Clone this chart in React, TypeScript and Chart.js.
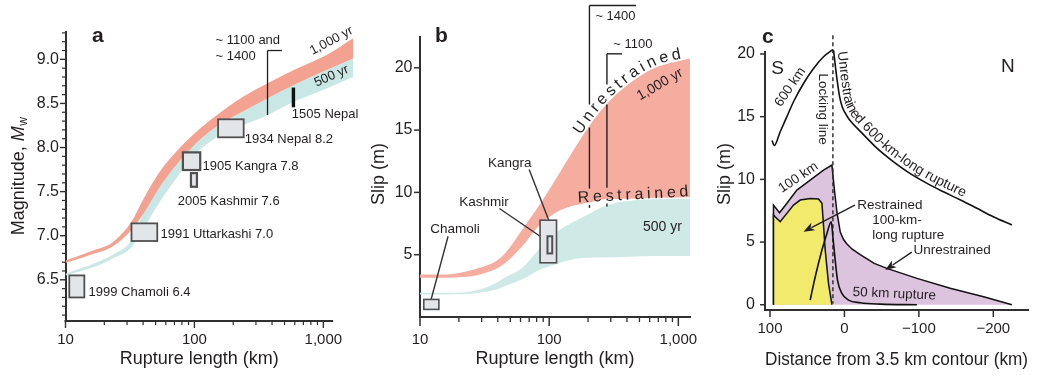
import React, { useEffect, useRef } from "react";
import { Chart, registerables } from "chart.js";

Chart.register(...registerables);

const FONT = "'Liberation Sans', Arial, Helvetica, sans-serif";
const INK = "#231f20";
const AXIS = "#303030";
const RED_A = "#f3a292";
const TEAL_A = "#c9e7e4";
const RED_B = "#f5ad9f";
const TEAL_B = "#cfe9e6";
const BOX_FILL = "#e3e6e8";
const BOX_LINE = "#505050";
const PURPLE = "#dcc3de";
const YELLOW = "#f1ea6d";

Chart.defaults.font.family = FONT;

// ---------------- Panel a: magnitude vs rupture length ----------------
const aLength = [10, 17, 23, 32.5, 41, 55, 74, 100, 150, 240, 370, 590, 1060, 1700];
const aRedTop = [6.72, 6.84, 6.92, 7.16, 7.44, 7.745, 7.97, 8.16, 8.37, 8.58, 8.73, 8.88, 9.05, 9.24];
const aRedBottom = [6.69, 6.8, 6.875, 7.065, 7.27, 7.575, 7.82, 8.03, 8.24, 8.41, 8.56, 8.71, 8.88, 9.01];
const aTealTop = [6.57, 6.69, 6.78, 6.95, 7.28, 7.58, 7.82, 8.03, 8.24, 8.41, 8.56, 8.71, 8.88, 9.01];
const aTealBottom = [6.55, 6.65, 6.74, 6.87, 7.1, 7.405, 7.67, 7.915, 8.12, 8.255, 8.37, 8.52, 8.67, 8.8];
const aXTicks = [10, 100, 1000];
const aXMinorTicks = [20, 30, 40, 50, 60, 70, 80, 90, 200, 300, 400, 500, 600, 700, 800, 900];
const aYTicks = [6.5, 7, 7.5, 8, 8.5, 9];
const aYMinorTicks = [6.1, 6.2, 6.3, 6.4, 6.6, 6.7, 6.8, 6.9, 7.1, 7.2, 7.3, 7.4, 7.6, 7.7, 7.8, 7.9, 8.1, 8.2, 8.3, 8.4, 8.6, 8.7, 8.8, 8.9, 9.1, 9.2, 9.3];
const aEventNames = ["1999 Chamoli 6.4", "1991 Uttarkashi 7.0", "1905 Kangra 7.8", "2005 Kashmir 7.6", "1934 Nepal 8.2"];
const aEventLength = [[10.7, 14], [32.5, 51.5], [81.4, 110.9], [94, 104.6], [152.6, 241]];
const aEventMagnitude = [[6.3, 6.55], [6.94, 7.14], [7.745, 7.945], [7.555, 7.71], [8.116, 8.32]];
const aEventLabelAt = [[15.1, 6.36], [54.5, 7.01], [115.4, 7.79], [74.3, 7.39], [246, 8.09]];
const a1505Length = 586;
const a1505Magnitude = [8.456, 8.68];
const aHistoricLength = [369, 477];
const aHistoricMagnitude = [8.37, 9.1];

// ---------------- Panel b: slip vs rupture length ----------------
const bLength = [10, 16, 21.5, 29, 39, 46, 62, 83, 112, 150, 200, 270, 410, 660, 1230];
const bRedTop = [3.42, 3.42, 3.6, 3.95, 4.5, 5.16, 7.03, 8.9, 11.04, 13.18, 15.19, 16.93, 18.67, 20.0, 20.75];
const bRedBottom = [3.15, 3.15, 3.2, 3.42, 3.87, 4.35, 5.69, 7.3, 8.37, 8.9, 9.17, 9.44, 9.49, 9.57, 9.6];
const bTealTop = [1.95, 1.95, 1.97, 2.2, 2.75, 3.2, 3.95, 5.42, 6.76, 7.57, 8.23, 8.9, 9.3, 9.44, 9.49];
const bTealBottom = [1.81, 1.81, 1.82, 1.95, 2.21, 2.5, 3.02, 3.76, 4.22, 4.62, 4.76, 4.78, 4.84, 4.89, 4.9];
const bXTicks = [10, 100, 1000];
const bXMinorTicks = [20, 30, 40, 50, 60, 70, 80, 90, 200, 300, 400, 500, 600, 700, 800, 900];
const bYTicks = [5, 10, 15, 20];
const bEventNames = ["Chamoli", "Kangra", "Kashmir"];
const bEventLength = [[10.7, 14], [85, 114], [97, 105.6]];
const bEventSlip = [[0.61, 1.41], [4.35, 7.77], [5.1, 6.48]];
const bEventLabelAt = [[18.7, 7.02], [49.5, 12.32], [31.3, 9.19]];
const bLeaderFrom = [[16.5, 6.48], [70, 11.84], [41.2, 8.71]];
const bLeaderTo = [[11.9, 1.0], [99.3, 7.77], [96.9, 6.08]];
const bHistoricNames = ["~ 1400", "~ 1100"];
const bHistoricLength = [205, 280];
const bHistoricArm = [471, 366];
const bHistoricTop = [25.0, 21.12];
const bHistoricSegments = [
  [[25.0, 17.05], [15.2, 10.3], [8.98, 8.76]],
  [[21.12, 18.66], [17.05, 10.37], [9.1, 8.86]],
];
const bHistoricLabelAt = [[228, 24.1], [314, 21.87]];

// ---------------- Panel c: slip vs distance ----------------
const cRightX = [14.6, 12.5, 10, 6.5, 3, -1, -5.5, -12, -21, -44, -66, -88, -111, -133, -156, -178, -200, -225];
const cRightSlip = [20.3, 19.2, 18.0, 16.6, 15.8, 15.3, 14.86, 14.4, 13.85, 12.47, 11.4, 10.48, 9.68, 9.01, 8.35, 7.69, 7.02, 6.36];
const cLeftX = [97.2, 94.4, 86.3, 77.3, 68.4, 55, 41.5, 28.1, 15.8];
const cLeftSlip = [13.1, 12.7, 13.8, 15.0, 16.19, 17.65, 18.85, 19.78, 20.35];
const c50X = [46, 39.2, 30.2, 23.5, 17.7, 15.5, 12.4, 9.3, 3.4, -5.5, -21.2, -48, -97.5];
const c50Slip = [0.37, 2.23, 4.36, 5.69, 6.62, 5.42, 3.56, 1.97, 0.91, 0.37, 0.16, 0.05, 0];
const cPurpleX = [95.3, 95.3, 87.2, 77.3, 63.9, 46, 28.1, 16.8, 13.7, 10.1, 5.6, 1.2, -3.4, -10, -21.2, -40, -57, -97.5, -142, -187, -225];
const cPurpleSlip = [0, 7.95, 7.34, 8.09, 9.15, 9.94, 10.74, 11.14, 9.3, 7.4, 5.8, 5.2, 4.85, 4.45, 4.0, 3.3, 2.9, 2.1, 1.31, 0.64, 0];
const cYellowX = [95.3, 95.3, 86.3, 77.3, 68.4, 59.4, 46, 34.8, 30.2, 28.9, 25.8, 21.4, 16.8];
const cYellowSlip = [0, 7.15, 6.62, 7.29, 7.95, 8.35, 8.48, 8.43, 8.09, 7.02, 4.36, 1.71, 0];
const cLockX = [15.5, 15.5];
const cLockSlip = [21.5, 0.1];
const cXTicks = [100, 0, -100, -200];
const cYTicks = [0, 5, 10, 15, 20];

// ---------------- helpers ----------------
type Pt = { x: number; y: number };

function seg(ctx: CanvasRenderingContext2D, x1: number, y1: number, x2: number, y2: number, w = 1.5, color = INK) {
  ctx.save();
  ctx.strokeStyle = color;
  ctx.lineWidth = w;
  ctx.beginPath();
  ctx.moveTo(x1, y1);
  ctx.lineTo(x2, y2);
  ctx.stroke();
  ctx.restore();
}

function txt(ctx: CanvasRenderingContext2D, s: string, x: number, y: number, o: any = {}) {
  ctx.save();
  ctx.font = `${o.italic ? "italic " : ""}${o.bold ? "bold " : ""}${o.size ?? 13}px ${FONT}`;
  ctx.fillStyle = o.color ?? INK;
  ctx.textAlign = o.align ?? "left";
  ctx.textBaseline = o.baseline ?? "middle";
  ctx.translate(x, y);
  if (o.rot) ctx.rotate((o.rot * Math.PI) / 180);
  ctx.fillText(s, 0, 0);
  ctx.restore();
}

function arrow(ctx: CanvasRenderingContext2D, x1: number, y1: number, x2: number, y2: number) {
  const a = Math.atan2(y2 - y1, x2 - x1);
  const L = 11, W = 4.2;
  seg(ctx, x1, y1, x2 - (L - 2) * Math.cos(a), y2 - (L - 2) * Math.sin(a), 1.4);
  ctx.save();
  ctx.fillStyle = INK;
  ctx.beginPath();
  ctx.moveTo(x2, y2);
  ctx.lineTo(x2 - L * Math.cos(a) + W * Math.sin(a), y2 - L * Math.sin(a) - W * Math.cos(a));
  ctx.lineTo(x2 - (L - 3) * Math.cos(a), y2 - (L - 3) * Math.sin(a));
  ctx.lineTo(x2 - L * Math.cos(a) - W * Math.sin(a), y2 - L * Math.sin(a) + W * Math.cos(a));
  ctx.closePath();
  ctx.fill();
  ctx.restore();
}

function box(ctx: CanvasRenderingContext2D, x0: number, y0: number, x1: number, y1: number, w = 1.8) {
  ctx.save();
  ctx.fillStyle = BOX_FILL;
  ctx.strokeStyle = BOX_LINE;
  ctx.lineWidth = w;
  const l = Math.min(x0, x1), t = Math.min(y0, y1);
  ctx.fillRect(l, t, Math.abs(x1 - x0), Math.abs(y1 - y0));
  ctx.strokeRect(l, t, Math.abs(x1 - x0), Math.abs(y1 - y0));
  ctx.restore();
}

function datasetPath(chart: any, idx: number): Pt[] {
  const pts = chart.getDatasetMeta(idx).data as any[];
  const out: Pt[] = [];
  for (let i = 0; i < pts.length; i++) {
    const p = pts[i];
    if (i === 0) {
      out.push({ x: p.x, y: p.y });
      continue;
    }
    const q = pts[i - 1];
    const c1x = q.cp2x ?? q.x, c1y = q.cp2y ?? q.y, c2x = p.cp1x ?? p.x, c2y = p.cp1y ?? p.y;
    for (let k = 1; k <= 12; k++) {
      const t = k / 12, u = 1 - t;
      out.push({
        x: u * u * u * q.x + 3 * u * u * t * c1x + 3 * u * t * t * c2x + t * t * t * p.x,
        y: u * u * u * q.y + 3 * u * u * t * c1y + 3 * u * t * t * c2y + t * t * t * p.y,
      });
    }
  }
  return out;
}

function textOnPath(ctx: CanvasRenderingContext2D, pts: Pt[], text: string, startX: number | null, s0: number, spacing: number, offset: number, size: number) {
  const cum = [0];
  for (let i = 1; i < pts.length; i++) cum.push(cum[i - 1] + Math.hypot(pts[i].x - pts[i - 1].x, pts[i].y - pts[i - 1].y));
  const at = (s: number): Pt => {
    let i = 1;
    while (i < pts.length - 1 && cum[i] < s) i++;
    const L = cum[i] - cum[i - 1] || 1;
    const t = (s - cum[i - 1]) / L;
    return { x: pts[i - 1].x + (pts[i].x - pts[i - 1].x) * t, y: pts[i - 1].y + (pts[i].y - pts[i - 1].y) * t };
  };
  let s = s0;
  if (startX !== null) {
    for (let i = 1; i < pts.length; i++) {
      if ((pts[i - 1].x - startX) * (pts[i].x - startX) <= 0 && pts[i].x !== pts[i - 1].x) {
        s = cum[i - 1] + ((startX - pts[i - 1].x) / (pts[i].x - pts[i - 1].x)) * (cum[i] - cum[i - 1]);
        break;
      }
    }
  }
  ctx.save();
  ctx.font = `${size}px ${FONT}`;
  ctx.fillStyle = INK;
  ctx.textAlign = "center";
  ctx.textBaseline = "alphabetic";
  for (const ch of text) {
    const w = ctx.measureText(ch).width;
    const c = s + w / 2;
    const p = at(c), pa = at(c - 4), pb = at(c + 4);
    const a = Math.atan2(pb.y - pa.y, pb.x - pa.x);
    ctx.save();
    ctx.translate(p.x + Math.sin(a) * offset, p.y - Math.cos(a) * offset);
    ctx.rotate(a);
    ctx.fillText(ch, 0, 0);
    ctx.restore();
    s += w + spacing;
  }
  ctx.restore();
}

const baseOptions = (padding: any) => ({
  animation: false as const,
  responsive: false,
  devicePixelRatio: 1,
  events: [] as any[],
  layout: { autoPadding: false, padding },
  plugins: { legend: { display: false }, tooltip: { enabled: false } },
});

const tickFont = (size: number) => ({ family: FONT, size });

// ---------------- Panel a ----------------
const A_AXIS_END = 1190;

function drawA(chart: any) {
  const { ctx, chartArea: area } = chart;
  const xs = chart.scales.x, ys = chart.scales.y;
  const X = (v: number) => xs.getPixelForValue(v);
  const Y = (v: number) => ys.getPixelForValue(v);
  seg(ctx, area.left - 1, area.bottom, X(A_AXIS_END), area.bottom, 2, AXIS);
  aXTicks.forEach((v) => seg(ctx, X(v), area.bottom, X(v), area.bottom + 7, 1.4, AXIS));
  aXMinorTicks.forEach((v) => seg(ctx, X(v), area.bottom, X(v), area.bottom + 4, 1.2, AXIS));
  aYTicks.forEach((v) => seg(ctx, area.left - 5.5, Y(v), area.left, Y(v), 1.4, AXIS));
  aYMinorTicks.forEach((v) => seg(ctx, area.left - 3.5, Y(v), area.left, Y(v), 1.2, AXIS));

  aEventNames.forEach((name, i) => {
    const [l0, l1] = aEventLength[i];
    const [m0, m1] = aEventMagnitude[i];
    box(ctx, X(l0), Y(m1), X(l1), Y(m0), i === 2 || i === 3 ? 2.2 : 1.8);
    const [lx, ly] = aEventLabelAt[i];
    txt(ctx, name, X(lx), Y(ly), { size: 13 });
  });
  seg(ctx, X(a1505Length), Y(a1505Magnitude[0]), X(a1505Length), Y(a1505Magnitude[1]), 3.4, "#111");
  txt(ctx, "1505 Nepal", X(570), Y(8.38), { size: 13 });

  seg(ctx, X(aHistoricLength[0]), Y(aHistoricMagnitude[0]), X(aHistoricLength[0]), Y(aHistoricMagnitude[1]), 1.3);
  seg(ctx, X(aHistoricLength[0]), Y(aHistoricMagnitude[1]), X(aHistoricLength[1]), Y(aHistoricMagnitude[1]), 1.3);
  txt(ctx, "~ 1100 and", X(146), Y(9.22), { size: 13 });
  txt(ctx, "~ 1400", X(146), Y(9.03), { size: 13 });
  txt(ctx, "1,000 yr", X(1157), Y(9.21), { size: 13, align: "center", rot: -28 });
  txt(ctx, "500 yr", X(1157), Y(8.81), { size: 13, align: "center", rot: -24 });

  txt(ctx, "Rupture length (km)", (area.left + X(A_AXIS_END)) / 2, 359, { size: 18, align: "center" });

  // y title with italic M and subscript w
  ctx.save();
  ctx.translate(area.left - 46.5, (area.top + area.bottom) / 2);
  ctx.rotate(-Math.PI / 2);
  ctx.fillStyle = INK;
  ctx.textBaseline = "middle";
  ctx.font = `18px ${FONT}`;
  const t1 = "Magnitude, ";
  const w1 = ctx.measureText(t1).width;
  ctx.font = `italic 18px ${FONT}`;
  const wM = ctx.measureText("M").width;
  ctx.font = `12px ${FONT}`;
  const ww = ctx.measureText("w").width;
  let x0 = -(w1 + wM + ww) / 2;
  ctx.font = `18px ${FONT}`;
  ctx.fillText(t1, x0, 0);
  x0 += w1;
  ctx.font = `italic 18px ${FONT}`;
  ctx.fillText("M", x0, 0);
  x0 += wM;
  ctx.font = `12px ${FONT}`;
  ctx.fillText("w", x0 + 0.5, 5);
  ctx.restore();

  txt(ctx, "a", 92, 42, { bold: true, size: 21, baseline: "alphabetic" });
}

function makeA(canvas: HTMLCanvasElement) {
  const pts = (ys: number[]) => aLength.map((x, i) => ({ x, y: ys[i] }));
  const band = (data: any, fill: any, color: string, label: string) => ({
    label, data, fill, backgroundColor: color, borderColor: color, borderWidth: 0, pointRadius: 0, cubicInterpolationMode: "monotone" as const,
  });
  return new Chart(canvas, {
    type: "line",
    data: {
      datasets: [
        band(pts(aRedTop), 1, RED_A, "1,000 yr"),
        band(pts(aRedBottom), false, RED_A, "1,000 yr (lower)"),
        band(pts(aTealTop), 3, TEAL_A, "500 yr"),
        band(pts(aTealBottom), false, TEAL_A, "500 yr (lower)"),
      ],
    },
    options: {
      ...baseOptions({ left: 15.5, top: 32, right: 686, bottom: 0 }),
      scales: {
        x: {
          type: "logarithmic", position: "bottom", min: 10, max: 1760,
          grid: { display: false, drawTicks: false },
          border: { display: false },
          ticks: { autoSkip: false, maxRotation: 0, padding: 9.5, color: INK, font: tickFont(15), callback: (v: any) => (v === 1000 ? "1,000" : String(v)) },
          afterBuildTicks: (s: any) => { s.ticks = aXTicks.map((value) => ({ value })); },
          afterFit: (s: any) => { s.height = 54; },
        },
        y: {
          type: "linear", position: "left", min: 6.033, max: 9.31,
          grid: { display: false, drawTicks: false },
          border: { display: true, color: AXIS, width: 2 },
          ticks: { autoSkip: false, padding: 6.5, color: INK, font: tickFont(16), callback: (v: any) => Number(v).toFixed(1) },
          afterBuildTicks: (s: any) => { s.ticks = aYTicks.map((value) => ({ value })); },
          afterFit: (s: any) => { s.width = 50; },
        },
      },
    } as any,
    plugins: [{ id: "decorA", afterDraw: drawA }],
  });
}

// ---------------- Panel b ----------------
function drawB(chart: any) {
  const { ctx, chartArea: area } = chart;
  const xs = chart.scales.x, ys = chart.scales.y;
  const X = (v: number) => xs.getPixelForValue(v);
  const Y = (v: number) => ys.getPixelForValue(v);
  bXTicks.forEach((v) => seg(ctx, X(v), area.bottom, X(v), area.bottom + 9, 1.5, AXIS));
  bXMinorTicks.forEach((v) => seg(ctx, X(v), area.bottom, X(v), area.bottom + 5, 1.3, AXIS));
  bYTicks.forEach((v) => seg(ctx, area.left - 6, Y(v), area.left, Y(v), 1.5, AXIS));

  // leader lines and boxes
  bEventNames.forEach((_, i) => {
    seg(ctx, X(bLeaderFrom[i][0]), Y(bLeaderFrom[i][1]), X(bLeaderTo[i][0]), Y(bLeaderTo[i][1]), 1.4, "#333");
  });
  bEventNames.forEach((name, i) => {
    const [l0, l1] = bEventLength[i];
    const [s0, s1] = bEventSlip[i];
    box(ctx, X(l0), Y(s1), X(l1), Y(s0), i === 2 ? 2 : 1.6);
  });
  bEventNames.forEach((name, i) => {
    const [lx, ly] = bEventLabelAt[i];
    txt(ctx, name, X(lx), Y(ly), { size: 13.5, align: "center" });
  });

  // historic brackets
  bHistoricNames.forEach((name, i) => {
    const x = X(bHistoricLength[i]);
    bHistoricSegments[i].forEach(([a, b]) => seg(ctx, x, Y(a), x, Y(b), 1.4));
    seg(ctx, x, Y(bHistoricTop[i]), X(bHistoricArm[i]), Y(bHistoricTop[i]), 1.4);
    txt(ctx, name, X(bHistoricLabelAt[i][0]), Y(bHistoricLabelAt[i][1]), { size: 13 });
  });

  // curved "Unrestrained" along the upper edge of the 1,000 yr band
  textOnPath(ctx, datasetPath(chart, 0), "Unrestrained", X(181), 0, 3.4, 2, 16);
  // "Restrained" along the lower edge
  textOnPath(ctx, [{ x: X(167.5), y: Y(9.19) }, { x: X(1100), y: Y(9.67) }, { x: X(3000), y: Y(10.15) }], "Restrained", null, 0, 3.7, 0, 16);

  txt(ctx, "1,000 yr", X(721), Y(18.66), { size: 14, align: "center", rot: -30 });
  txt(ctx, "500 yr", X(753), Y(7.18), { size: 14, align: "center" });

  txt(ctx, "Slip (m)", area.left - 41, 174, { size: 18, align: "center", rot: -90 });
  txt(ctx, "b", 435, 42, { bold: true, size: 21, baseline: "alphabetic" });
}

function makeB(canvas: HTMLCanvasElement) {
  const pts = (ys: number[]) => bLength.map((x, i) => ({ x, y: ys[i] }));
  const band = (data: any, fill: any, color: string, label: string) => ({
    label, data, fill, backgroundColor: color, borderColor: color, borderWidth: 0, pointRadius: 0, cubicInterpolationMode: "monotone" as const,
  });
  return new Chart(canvas, {
    type: "line",
    data: {
      datasets: [
        band(pts(bRedTop), 1, RED_B, "1,000 yr"),
        band(pts(bRedBottom), false, RED_B, "1,000 yr (lower)"),
        band(pts(bTealTop), 3, TEAL_B, "500 yr"),
        band(pts(bTealBottom), false, TEAL_B, "500 yr (lower)"),
      ],
    },
    options: {
      ...baseOptions({ left: 370, top: 37, right: 351, bottom: 0 }),
      scales: {
        x: {
          type: "logarithmic", position: "bottom", min: 10, max: 1231,
          grid: { display: false, drawTicks: false },
          border: { display: true, color: AXIS, width: 2 },
          ticks: { autoSkip: false, maxRotation: 0, padding: 13.5, color: INK, font: tickFont(15), callback: (v: any) => (v === 1000 ? "1,000" : String(v)) },
          title: { display: true, text: "Rupture length (km)", color: INK, font: { family: FONT, size: 18 }, padding: { top: 0, bottom: 5 } },
          afterBuildTicks: (s: any) => { s.ticks = bXTicks.map((value) => ({ value })); },
          afterFit: (s: any) => { s.height = 58; },
        },
        y: {
          type: "linear", position: "left", min: 0, max: 22.47,
          grid: { display: false, drawTicks: false },
          border: { display: true, color: AXIS, width: 2 },
          ticks: { autoSkip: false, padding: 7.5, color: INK, font: tickFont(16), callback: (v: any) => String(v) },
          afterBuildTicks: (s: any) => { s.ticks = bYTicks.map((value) => ({ value })); },
          afterFit: (s: any) => { s.width = 50; },
        },
      },
    } as any,
    plugins: [{ id: "decorB", afterDraw: drawB }],
  });
}

// ---------------- Panel c ----------------
function drawC(chart: any) {
  const { ctx, chartArea: area } = chart;
  const xs = chart.scales.x, ys = chart.scales.y;
  const X = (v: number) => xs.getPixelForValue(v);
  const Y = (v: number) => ys.getPixelForValue(v);
  cXTicks.forEach((v) => seg(ctx, X(v), area.bottom, X(v), area.bottom + 7, 1.5, AXIS));
  cYTicks.forEach((v) => seg(ctx, area.left - 5, Y(v), area.left, Y(v), 1.5, AXIS));

  txt(ctx, "S", X(89.7), Y(18.84), { size: 19, align: "center" });
  txt(ctx, "N", X(-219.5), Y(18.96), { size: 19, align: "center" });
  txt(ctx, "Locking line", X(29.8), Y(15.6), { size: 13.5, align: "center", rot: 90 });
  txt(ctx, "600 km", X(72.8), Y(17.36), { size: 13.5, align: "center", rot: -56 });
  txt(ctx, "100 km", X(62), Y(10.14), { size: 13.5, align: "center", rot: -34 });
  txt(ctx, "Restrained", X(-17.1), Y(7.95), { size: 13.5 });
  txt(ctx, "100-km-", X(-37.4), Y(6.75), { size: 13.5 });
  txt(ctx, "long rupture", X(-37.4), Y(5.56), { size: 13.5 });
  arrow(ctx, X(-14), Y(7.95), X(55), Y(5.83));
  txt(ctx, "Unrestrained", X(-92.9), Y(4.36), { size: 13.5 });
  arrow(ctx, X(-90.5), Y(4.2), X(-54.8), Y(2.77));
  txt(ctx, "50 km rupture", X(-67), Y(0.85), { size: 13.5, align: "center", rot: 2.5 });

  textOnPath(ctx, datasetPath(chart, 0), "Unrestrained 600-km-long rupture", null, 2, 0, 4, 14);

  txt(ctx, "Slip (m)", area.left - 40, 174, { size: 18, align: "center", rot: -90 });
  txt(ctx, "c", 762, 43, { bold: true, size: 21, baseline: "alphabetic" });
}

function makeC(canvas: HTMLCanvasElement) {
  const xy = (xsArr: number[], ysArr: number[]) => xsArr.map((x, i) => ({ x, y: ysArr[i] }));
  const curve = (data: any, label: string, extra: any = {}) => ({
    label, data, fill: false, borderColor: "#111", borderWidth: 1.6, pointRadius: 0, clip: false as const, cubicInterpolationMode: "monotone" as const, ...extra,
  });
  return new Chart(canvas, {
    type: "line",
    data: {
      datasets: [
        curve(xy(cRightX, cRightSlip), "Unrestrained 600-km-long rupture"),
        curve(xy(cLeftX, cLeftSlip), "600 km"),
        curve(xy(c50X, c50Slip), "50 km rupture"),
        curve(xy(cLockX, cLockSlip), "Locking line", { borderDash: [4, 3], borderWidth: 1.5, borderColor: "#333", cubicInterpolationMode: "default", tension: 0 }),
        { label: "Restrained 100-km-long rupture", data: xy(cYellowX, cYellowSlip), fill: "origin", backgroundColor: YELLOW, borderColor: "#111", borderWidth: 1.5, pointRadius: 0, tension: 0 },
        { label: "Unrestrained 100 km", data: xy(cPurpleX, cPurpleSlip), fill: "origin", backgroundColor: PURPLE, borderColor: "#111", borderWidth: 1.5, pointRadius: 0, tension: 0 },
      ],
    },
    options: {
      ...baseOptions({ left: 715, top: 52, right: 13, bottom: 0 }),
      scales: {
        x: {
          type: "linear", position: "bottom", min: -246.6, max: 106.7, reverse: true,
          grid: { display: false, drawTicks: false },
          border: { display: true, color: AXIS, width: 2 },
          ticks: { autoSkip: false, maxRotation: 0, padding: 10, color: INK, font: tickFont(15), callback: (v: any) => (v < 0 ? "\u2212" + Math.abs(v) : String(v)) },
          title: { display: true, text: "Distance from 3.5 km contour (km)", color: INK, font: { family: FONT, size: 18 }, padding: { top: 0, bottom: 4 } },
          afterBuildTicks: (s: any) => { s.ticks = cXTicks.map((value) => ({ value })); },
          afterFit: (s: any) => { s.height = 65; },
        },
        y: {
          type: "linear", position: "left", min: -0.42, max: 20.16,
          grid: { display: false, drawTicks: false },
          border: { display: true, color: AXIS, width: 2 },
          ticks: { autoSkip: false, padding: 10, color: INK, font: tickFont(16), callback: (v: any) => String(v) },
          afterBuildTicks: (s: any) => { s.ticks = cYTicks.map((value) => ({ value })); },
          afterFit: (s: any) => { s.width = 50; },
        },
      },
    } as any,
    plugins: [{ id: "decorC", afterDraw: drawC }],
  });
}

export default function App() {
  const aRef = useRef<HTMLCanvasElement>(null);
  const bRef = useRef<HTMLCanvasElement>(null);
  const cRef = useRef<HTMLCanvasElement>(null);
  useEffect(() => {
    const charts = [makeA(aRef.current!), makeB(bRef.current!), makeC(cRef.current!)];
    return () => charts.forEach((c) => c.destroy());
  }, []);
  const layer: React.CSSProperties = { position: "absolute", left: 0, top: 0, width: 1041, height: 375 };
  return (
    <div style={{ position: "absolute", left: 0, top: 0, width: 1041, height: 375, background: "#fff", overflow: "hidden" }}>
      <canvas ref={aRef} width={1041} height={375} style={layer} />
      <canvas ref={bRef} width={1041} height={375} style={layer} />
      <canvas ref={cRef} width={1041} height={375} style={layer} />
    </div>
  );
}
